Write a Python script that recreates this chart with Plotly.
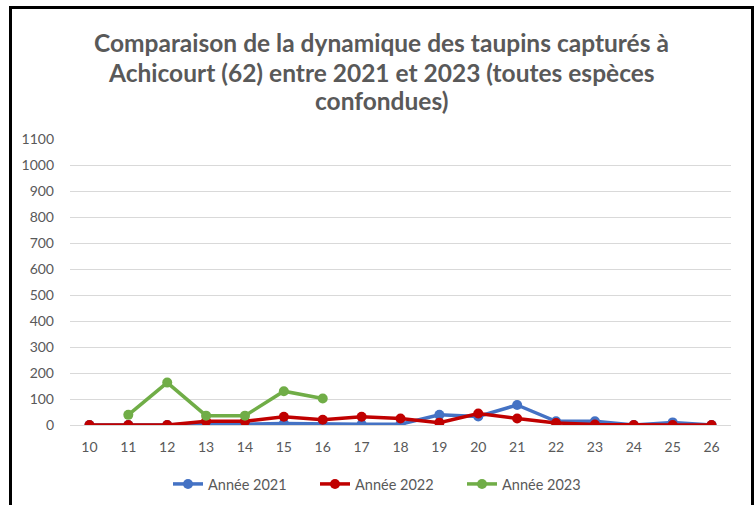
import plotly.graph_objects as go

weeks = [str(w) for w in range(10, 27)]
y2021 = [0, 0, 0, 6, 3, 6, 3, 3, 3, 39, 33, 77, 14, 14, 0, 10, 0]
y2022 = [0, 0, 0, 14, 14, 32, 20, 32, 25, 9, 44, 25, 8, 2, 0, 0, 0]
weeks2023 = ["11", "12", "13", "14", "15", "16"]
y2023 = [39, 163, 36, 36, 130, 102]
yticks = list(range(0, 1101, 100))

title_lines = [
    "Comparaison de la dynamique des taupins capturés à",
    "Achicourt (62) entre 2021 et 2023 (toutes espèces",
    "confondues)",
]

W, H = 755, 505
L, R, T, B = 70, 731, 139, 425

def px(x):
    return (x - L) / (R - L)

def py(y):
    return (B - y) / (B - T)

fig = go.Figure()
series = [
    ("Année 2021", weeks, y2021, "#4472C4"),
    ("Année 2022", weeks, y2022, "#C00000"),
    ("Année 2023", weeks2023, y2023, "#70AD47"),
]
for name, xs, ys, col in series:
    fig.add_trace(go.Scatter(
        x=xs, y=ys, name=name, mode="lines+markers",
        line=dict(color=col, width=3.5),
        marker=dict(color=col, size=10),
    ))

font = "Lato"
fig.update_layout(
    width=W, height=H,
    margin=dict(l=L, r=W - R, t=T, b=H - B, autoexpand=False),
    plot_bgcolor="white", paper_bgcolor="white",
    showlegend=True,
    legend=dict(orientation="h", x=px(168), xanchor="left", y=py(484), yanchor="middle",
                font=dict(family=font, size=14.5, color="#595959"),
                entrywidth=102, entrywidthmode="pixels", tracegroupgap=0),
    xaxis=dict(type="category", categoryorder="array", categoryarray=weeks,
               range=[-0.5, len(weeks) - 0.5], showgrid=False, zeroline=False,
               showline=True, linecolor="#D9D9D9", linewidth=1, ticks="",
               tickfont=dict(family=font, size=14, color="#595959"), ticklabelstandoff=9),
    yaxis=dict(range=[0, 1100], tickvals=yticks, showgrid=True, gridcolor="#D9D9D9",
               gridwidth=1, zeroline=False, showline=False, ticks="",
               tickfont=dict(family=font, size=14, color="#595959"), ticklabelstandoff=15),
)

for i, (t, yy) in enumerate(zip(title_lines, [42, 72, 101])):
    fig.add_annotation(text="<b>" + t + "</b>", x=px(381), y=py(yy), xref="paper", yref="paper",
                       xanchor="center", yanchor="middle", showarrow=False,
                       font=dict(family=font, size=24.5, color="#595959"))

fig.add_shape(type="rect", xref="paper", yref="paper",
              x0=px(10.5), x1=px(752.5), y0=py(530), y1=py(7.5),
              line=dict(color="black", width=3), fillcolor="rgba(0,0,0,0)", layer="below")

fig.write_html("out.html", config={"displayModeBar": False},
               post_script="document.body.style.margin='0';document.body.style.overflow='hidden';")
